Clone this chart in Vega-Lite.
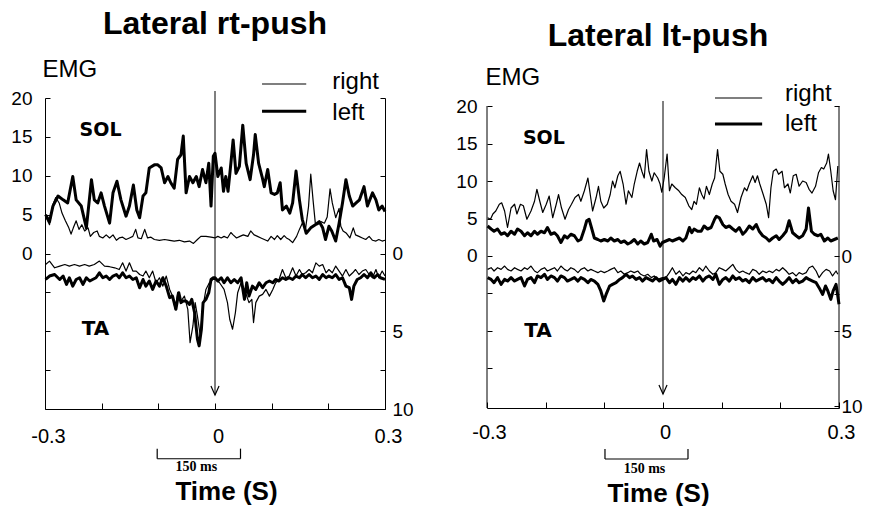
{
"$schema": "https://vega.github.io/schema/vega-lite/v6.json",
"background": "white",
"padding": {"left": 10, "top": 8, "right": 0, "bottom": 0},
"spacing": 41,
"config": {"font": "Liberation Sans", "view": {"stroke": null}, "axis": {"grid": false, "domainColor": "black", "tickColor": "black", "labelColor": "black", "titleColor": "black", "labelFont": "Liberation Sans", "titleFont": "Liberation Sans", "domainWidth": 1, "tickWidth": 1}},
"datasets": {
"rt": [
{"m":"SOL","s":"left","t":-0.299,"v":5.0},{"m":"SOL","s":"left","t":-0.292,"v":4.1},{"m":"SOL","s":"left","t":-0.286,"v":6.1},{"m":"SOL","s":"left","t":-0.277,"v":7.4},{"m":"SOL","s":"left","t":-0.268,"v":6.9},{"m":"SOL","s":"left","t":-0.26,"v":6.5},{"m":"SOL","s":"left","t":-0.251,"v":9.9},{"m":"SOL","s":"left","t":-0.245,"v":6.9},{"m":"SOL","s":"left","t":-0.236,"v":6.1},{"m":"SOL","s":"left","t":-0.227,"v":3.3},{"m":"SOL","s":"left","t":-0.218,"v":9.5},{"m":"SOL","s":"left","t":-0.213,"v":6.9},{"m":"SOL","s":"left","t":-0.207,"v":6.5},{"m":"SOL","s":"left","t":-0.201,"v":7.8},{"m":"SOL","s":"left","t":-0.195,"v":6.1},{"m":"SOL","s":"left","t":-0.186,"v":3.9},{"m":"SOL","s":"left","t":-0.18,"v":7.8},{"m":"SOL","s":"left","t":-0.173,"v":9.3},{"m":"SOL","s":"left","t":-0.166,"v":6.9},{"m":"SOL","s":"left","t":-0.157,"v":4.8},{"m":"SOL","s":"left","t":-0.151,"v":6.1},{"m":"SOL","s":"left","t":-0.144,"v":8.8},{"m":"SOL","s":"left","t":-0.138,"v":5.6},{"m":"SOL","s":"left","t":-0.133,"v":4.6},{"m":"SOL","s":"left","t":-0.127,"v":7.4},{"m":"SOL","s":"left","t":-0.122,"v":7.8},{"m":"SOL","s":"left","t":-0.116,"v":11.0},{"m":"SOL","s":"left","t":-0.107,"v":11.4},{"m":"SOL","s":"left","t":-0.101,"v":11.4},{"m":"SOL","s":"left","t":-0.095,"v":11.0},{"m":"SOL","s":"left","t":-0.089,"v":9.1},{"m":"SOL","s":"left","t":-0.083,"v":9.9},{"m":"SOL","s":"left","t":-0.078,"v":9.1},{"m":"SOL","s":"left","t":-0.072,"v":8.4},{"m":"SOL","s":"left","t":-0.066,"v":12.1},{"m":"SOL","s":"left","t":-0.06,"v":12.7},{"m":"SOL","s":"left","t":-0.056,"v":15.1},{"m":"SOL","s":"left","t":-0.051,"v":7.8},{"m":"SOL","s":"left","t":-0.045,"v":9.9},{"m":"SOL","s":"left","t":-0.039,"v":9.1},{"m":"SOL","s":"left","t":-0.033,"v":9.9},{"m":"SOL","s":"left","t":-0.028,"v":8.6},{"m":"SOL","s":"left","t":-0.022,"v":10.8},{"m":"SOL","s":"left","t":-0.016,"v":9.1},{"m":"SOL","s":"left","t":-0.011,"v":11.6},{"m":"SOL","s":"left","t":-0.007,"v":6.1},{"m":"SOL","s":"left","t":-0.003,"v":12.5},{"m":"SOL","s":"left","t":0.0,"v":12.9},{"m":"SOL","s":"left","t":0.005,"v":9.9},{"m":"SOL","s":"left","t":0.011,"v":11.0},{"m":"SOL","s":"left","t":0.015,"v":8.0},{"m":"SOL","s":"left","t":0.019,"v":9.9},{"m":"SOL","s":"left","t":0.023,"v":8.0},{"m":"SOL","s":"left","t":0.028,"v":11.6},{"m":"SOL","s":"left","t":0.032,"v":14.6},{"m":"SOL","s":"left","t":0.037,"v":10.3},{"m":"SOL","s":"left","t":0.043,"v":11.2},{"m":"SOL","s":"left","t":0.049,"v":16.5},{"m":"SOL","s":"left","t":0.055,"v":11.6},{"m":"SOL","s":"left","t":0.062,"v":9.5},{"m":"SOL","s":"left","t":0.068,"v":12.7},{"m":"SOL","s":"left","t":0.071,"v":15.3},{"m":"SOL","s":"left","t":0.077,"v":11.6},{"m":"SOL","s":"left","t":0.083,"v":9.9},{"m":"SOL","s":"left","t":0.087,"v":8.6},{"m":"SOL","s":"left","t":0.093,"v":10.8},{"m":"SOL","s":"left","t":0.099,"v":7.8},{"m":"SOL","s":"left","t":0.105,"v":7.6},{"m":"SOL","s":"left","t":0.11,"v":7.8},{"m":"SOL","s":"left","t":0.115,"v":9.1},{"m":"SOL","s":"left","t":0.119,"v":5.6},{"m":"SOL","s":"left","t":0.126,"v":6.1},{"m":"SOL","s":"left","t":0.132,"v":5.2},{"m":"SOL","s":"left","t":0.137,"v":6.5},{"m":"SOL","s":"left","t":0.143,"v":10.6},{"m":"SOL","s":"left","t":0.149,"v":6.9},{"m":"SOL","s":"left","t":0.154,"v":4.4},{"m":"SOL","s":"left","t":0.161,"v":2.6},{"m":"SOL","s":"left","t":0.169,"v":3.3},{"m":"SOL","s":"left","t":0.177,"v":3.7},{"m":"SOL","s":"left","t":0.184,"v":4.1},{"m":"SOL","s":"left","t":0.19,"v":3.3},{"m":"SOL","s":"left","t":0.195,"v":1.8},{"m":"SOL","s":"left","t":0.201,"v":3.5},{"m":"SOL","s":"left","t":0.206,"v":2.9},{"m":"SOL","s":"left","t":0.213,"v":1.6},{"m":"SOL","s":"left","t":0.219,"v":3.9},{"m":"SOL","s":"left","t":0.225,"v":6.5},{"m":"SOL","s":"left","t":0.231,"v":9.5},{"m":"SOL","s":"left","t":0.237,"v":7.4},{"m":"SOL","s":"left","t":0.243,"v":6.1},{"m":"SOL","s":"left","t":0.249,"v":6.5},{"m":"SOL","s":"left","t":0.255,"v":6.9},{"m":"SOL","s":"left","t":0.263,"v":8.6},{"m":"SOL","s":"left","t":0.269,"v":6.1},{"m":"SOL","s":"left","t":0.278,"v":7.8},{"m":"SOL","s":"left","t":0.284,"v":6.9},{"m":"SOL","s":"left","t":0.289,"v":5.6},{"m":"SOL","s":"left","t":0.295,"v":6.1},{"m":"SOL","s":"left","t":0.3,"v":5.4},
{"m":"SOL","s":"right","t":-0.298,"v":4.6},{"m":"SOL","s":"right","t":-0.292,"v":3.7},{"m":"SOL","s":"right","t":-0.286,"v":6.3},{"m":"SOL","s":"right","t":-0.281,"v":7.2},{"m":"SOL","s":"right","t":-0.275,"v":6.5},{"m":"SOL","s":"right","t":-0.27,"v":5.2},{"m":"SOL","s":"right","t":-0.264,"v":4.2},{"m":"SOL","s":"right","t":-0.258,"v":3.3},{"m":"SOL","s":"right","t":-0.254,"v":2.5},{"m":"SOL","s":"right","t":-0.25,"v":3.3},{"m":"SOL","s":"right","t":-0.245,"v":4.2},{"m":"SOL","s":"right","t":-0.24,"v":3.1},{"m":"SOL","s":"right","t":-0.235,"v":3.7},{"m":"SOL","s":"right","t":-0.23,"v":2.9},{"m":"SOL","s":"right","t":-0.224,"v":3.3},{"m":"SOL","s":"right","t":-0.22,"v":2.2},{"m":"SOL","s":"right","t":-0.214,"v":2.7},{"m":"SOL","s":"right","t":-0.208,"v":2.9},{"m":"SOL","s":"right","t":-0.204,"v":2.2},{"m":"SOL","s":"right","t":-0.198,"v":2.0},{"m":"SOL","s":"right","t":-0.192,"v":2.4},{"m":"SOL","s":"right","t":-0.186,"v":2.0},{"m":"SOL","s":"right","t":-0.18,"v":2.4},{"m":"SOL","s":"right","t":-0.174,"v":1.7},{"m":"SOL","s":"right","t":-0.169,"v":2.0},{"m":"SOL","s":"right","t":-0.163,"v":2.1},{"m":"SOL","s":"right","t":-0.157,"v":1.8},{"m":"SOL","s":"right","t":-0.151,"v":2.0},{"m":"SOL","s":"right","t":-0.145,"v":2.2},{"m":"SOL","s":"right","t":-0.14,"v":3.1},{"m":"SOL","s":"right","t":-0.136,"v":2.0},{"m":"SOL","s":"right","t":-0.13,"v":1.9},{"m":"SOL","s":"right","t":-0.124,"v":3.1},{"m":"SOL","s":"right","t":-0.119,"v":2.0},{"m":"SOL","s":"right","t":-0.113,"v":2.1},{"m":"SOL","s":"right","t":-0.107,"v":1.8},{"m":"SOL","s":"right","t":-0.098,"v":1.7},{"m":"SOL","s":"right","t":-0.089,"v":1.8},{"m":"SOL","s":"right","t":-0.08,"v":1.7},{"m":"SOL","s":"right","t":-0.072,"v":1.6},{"m":"SOL","s":"right","t":-0.063,"v":1.7},{"m":"SOL","s":"right","t":-0.054,"v":1.5},{"m":"SOL","s":"right","t":-0.045,"v":1.6},{"m":"SOL","s":"right","t":-0.038,"v":1.3},{"m":"SOL","s":"right","t":-0.031,"v":1.8},{"m":"SOL","s":"right","t":-0.025,"v":2.2},{"m":"SOL","s":"right","t":-0.016,"v":2.2},{"m":"SOL","s":"right","t":-0.007,"v":2.1},{"m":"SOL","s":"right","t":0.0,"v":2.0},{"m":"SOL","s":"right","t":0.005,"v":2.2},{"m":"SOL","s":"right","t":0.011,"v":2.0},{"m":"SOL","s":"right","t":0.016,"v":2.2},{"m":"SOL","s":"right","t":0.022,"v":2.0},{"m":"SOL","s":"right","t":0.028,"v":2.7},{"m":"SOL","s":"right","t":0.032,"v":2.4},{"m":"SOL","s":"right","t":0.038,"v":2.0},{"m":"SOL","s":"right","t":0.044,"v":2.2},{"m":"SOL","s":"right","t":0.05,"v":2.4},{"m":"SOL","s":"right","t":0.058,"v":2.2},{"m":"SOL","s":"right","t":0.063,"v":2.9},{"m":"SOL","s":"right","t":0.069,"v":2.4},{"m":"SOL","s":"right","t":0.075,"v":2.2},{"m":"SOL","s":"right","t":0.081,"v":2.0},{"m":"SOL","s":"right","t":0.087,"v":1.8},{"m":"SOL","s":"right","t":0.093,"v":1.6},{"m":"SOL","s":"right","t":0.099,"v":2.2},{"m":"SOL","s":"right","t":0.105,"v":1.8},{"m":"SOL","s":"right","t":0.11,"v":2.3},{"m":"SOL","s":"right","t":0.116,"v":1.8},{"m":"SOL","s":"right","t":0.122,"v":2.3},{"m":"SOL","s":"right","t":0.126,"v":2.0},{"m":"SOL","s":"right","t":0.131,"v":1.8},{"m":"SOL","s":"right","t":0.137,"v":1.4},{"m":"SOL","s":"right","t":0.144,"v":2.2},{"m":"SOL","s":"right","t":0.149,"v":3.1},{"m":"SOL","s":"right","t":0.154,"v":3.9},{"m":"SOL","s":"right","t":0.16,"v":3.3},{"m":"SOL","s":"right","t":0.165,"v":6.0},{"m":"SOL","s":"right","t":0.169,"v":10.2},{"m":"SOL","s":"right","t":0.173,"v":6.9},{"m":"SOL","s":"right","t":0.177,"v":3.9},{"m":"SOL","s":"right","t":0.181,"v":3.7},{"m":"SOL","s":"right","t":0.187,"v":4.1},{"m":"SOL","s":"right","t":0.193,"v":3.9},{"m":"SOL","s":"right","t":0.198,"v":4.7},{"m":"SOL","s":"right","t":0.203,"v":8.3},{"m":"SOL","s":"right","t":0.207,"v":6.5},{"m":"SOL","s":"right","t":0.213,"v":4.6},{"m":"SOL","s":"right","t":0.219,"v":5.8},{"m":"SOL","s":"right","t":0.222,"v":3.5},{"m":"SOL","s":"right","t":0.226,"v":2.9},{"m":"SOL","s":"right","t":0.232,"v":2.6},{"m":"SOL","s":"right","t":0.238,"v":2.0},{"m":"SOL","s":"right","t":0.244,"v":3.3},{"m":"SOL","s":"right","t":0.248,"v":2.4},{"m":"SOL","s":"right","t":0.254,"v":2.2},{"m":"SOL","s":"right","t":0.26,"v":2.0},{"m":"SOL","s":"right","t":0.266,"v":1.8},{"m":"SOL","s":"right","t":0.272,"v":2.2},{"m":"SOL","s":"right","t":0.278,"v":1.7},{"m":"SOL","s":"right","t":0.284,"v":1.6},{"m":"SOL","s":"right","t":0.289,"v":1.8},{"m":"SOL","s":"right","t":0.295,"v":1.6},{"m":"SOL","s":"right","t":0.3,"v":1.7},
{"m":"TA","s":"right","t":-0.299,"v":0.71},{"m":"TA","s":"right","t":-0.292,"v":0.49},{"m":"TA","s":"right","t":-0.283,"v":0.92},{"m":"TA","s":"right","t":-0.274,"v":0.81},{"m":"TA","s":"right","t":-0.265,"v":0.71},{"m":"TA","s":"right","t":-0.257,"v":0.81},{"m":"TA","s":"right","t":-0.248,"v":0.71},{"m":"TA","s":"right","t":-0.239,"v":0.81},{"m":"TA","s":"right","t":-0.23,"v":0.71},{"m":"TA","s":"right","t":-0.222,"v":0.81},{"m":"TA","s":"right","t":-0.213,"v":0.71},{"m":"TA","s":"right","t":-0.204,"v":0.49},{"m":"TA","s":"right","t":-0.195,"v":0.81},{"m":"TA","s":"right","t":-0.186,"v":0.85},{"m":"TA","s":"right","t":-0.177,"v":0.92},{"m":"TA","s":"right","t":-0.169,"v":1.03},{"m":"TA","s":"right","t":-0.163,"v":0.6},{"m":"TA","s":"right","t":-0.157,"v":1.13},{"m":"TA","s":"right","t":-0.151,"v":0.6},{"m":"TA","s":"right","t":-0.145,"v":1.13},{"m":"TA","s":"right","t":-0.139,"v":1.13},{"m":"TA","s":"right","t":-0.133,"v":1.35},{"m":"TA","s":"right","t":-0.127,"v":1.45},{"m":"TA","s":"right","t":-0.122,"v":1.13},{"m":"TA","s":"right","t":-0.116,"v":1.56},{"m":"TA","s":"right","t":-0.11,"v":1.13},{"m":"TA","s":"right","t":-0.104,"v":1.88},{"m":"TA","s":"right","t":-0.098,"v":1.56},{"m":"TA","s":"right","t":-0.092,"v":2.1},{"m":"TA","s":"right","t":-0.086,"v":1.45},{"m":"TA","s":"right","t":-0.08,"v":2.31},{"m":"TA","s":"right","t":-0.075,"v":2.74},{"m":"TA","s":"right","t":-0.07,"v":3.59},{"m":"TA","s":"right","t":-0.066,"v":2.52},{"m":"TA","s":"right","t":-0.06,"v":3.06},{"m":"TA","s":"right","t":-0.054,"v":2.74},{"m":"TA","s":"right","t":-0.048,"v":3.59},{"m":"TA","s":"right","t":-0.044,"v":5.73},{"m":"TA","s":"right","t":-0.039,"v":4.66},{"m":"TA","s":"right","t":-0.035,"v":3.16},{"m":"TA","s":"right","t":-0.031,"v":4.02},{"m":"TA","s":"right","t":-0.026,"v":5.3},{"m":"TA","s":"right","t":-0.022,"v":3.59},{"m":"TA","s":"right","t":-0.016,"v":2.31},{"m":"TA","s":"right","t":-0.01,"v":1.88},{"m":"TA","s":"right","t":-0.004,"v":1.67},{"m":"TA","s":"right","t":0.002,"v":1.67},{"m":"TA","s":"right","t":0.008,"v":1.88},{"m":"TA","s":"right","t":0.016,"v":2.31},{"m":"TA","s":"right","t":0.022,"v":3.16},{"m":"TA","s":"right","t":0.026,"v":4.23},{"m":"TA","s":"right","t":0.031,"v":4.87},{"m":"TA","s":"right","t":0.036,"v":3.8},{"m":"TA","s":"right","t":0.04,"v":2.52},{"m":"TA","s":"right","t":0.046,"v":1.88},{"m":"TA","s":"right","t":0.052,"v":2.31},{"m":"TA","s":"right","t":0.056,"v":2.74},{"m":"TA","s":"right","t":0.06,"v":3.16},{"m":"TA","s":"right","t":0.065,"v":2.95},{"m":"TA","s":"right","t":0.068,"v":4.44},{"m":"TA","s":"right","t":0.072,"v":3.16},{"m":"TA","s":"right","t":0.078,"v":2.74},{"m":"TA","s":"right","t":0.084,"v":2.63},{"m":"TA","s":"right","t":0.09,"v":2.31},{"m":"TA","s":"right","t":0.096,"v":2.74},{"m":"TA","s":"right","t":0.102,"v":2.31},{"m":"TA","s":"right","t":0.107,"v":1.88},{"m":"TA","s":"right","t":0.113,"v":1.67},{"m":"TA","s":"right","t":0.119,"v":1.03},{"m":"TA","s":"right","t":0.125,"v":1.56},{"m":"TA","s":"right","t":0.131,"v":1.45},{"m":"TA","s":"right","t":0.137,"v":0.92},{"m":"TA","s":"right","t":0.143,"v":1.45},{"m":"TA","s":"right","t":0.149,"v":1.03},{"m":"TA","s":"right","t":0.154,"v":1.35},{"m":"TA","s":"right","t":0.16,"v":1.24},{"m":"TA","s":"right","t":0.166,"v":1.03},{"m":"TA","s":"right","t":0.172,"v":1.24},{"m":"TA","s":"right","t":0.178,"v":0.6},{"m":"TA","s":"right","t":0.184,"v":0.81},{"m":"TA","s":"right","t":0.19,"v":0.71},{"m":"TA","s":"right","t":0.196,"v":1.24},{"m":"TA","s":"right","t":0.201,"v":1.03},{"m":"TA","s":"right","t":0.207,"v":1.24},{"m":"TA","s":"right","t":0.213,"v":0.81},{"m":"TA","s":"right","t":0.219,"v":1.13},{"m":"TA","s":"right","t":0.225,"v":1.45},{"m":"TA","s":"right","t":0.231,"v":1.03},{"m":"TA","s":"right","t":0.237,"v":1.45},{"m":"TA","s":"right","t":0.243,"v":1.24},{"m":"TA","s":"right","t":0.248,"v":1.03},{"m":"TA","s":"right","t":0.254,"v":1.35},{"m":"TA","s":"right","t":0.26,"v":1.13},{"m":"TA","s":"right","t":0.266,"v":1.03},{"m":"TA","s":"right","t":0.272,"v":1.35},{"m":"TA","s":"right","t":0.278,"v":1.56},{"m":"TA","s":"right","t":0.284,"v":1.03},{"m":"TA","s":"right","t":0.289,"v":1.56},{"m":"TA","s":"right","t":0.295,"v":1.13},{"m":"TA","s":"right","t":0.3,"v":1.45},
{"m":"TA","s":"left","t":-0.299,"v":1.67},{"m":"TA","s":"left","t":-0.292,"v":1.45},{"m":"TA","s":"left","t":-0.283,"v":1.35},{"m":"TA","s":"left","t":-0.274,"v":1.67},{"m":"TA","s":"left","t":-0.268,"v":1.45},{"m":"TA","s":"left","t":-0.262,"v":1.99},{"m":"TA","s":"left","t":-0.257,"v":1.56},{"m":"TA","s":"left","t":-0.251,"v":2.1},{"m":"TA","s":"left","t":-0.245,"v":1.67},{"m":"TA","s":"left","t":-0.239,"v":1.56},{"m":"TA","s":"left","t":-0.233,"v":1.99},{"m":"TA","s":"left","t":-0.227,"v":1.56},{"m":"TA","s":"left","t":-0.221,"v":1.77},{"m":"TA","s":"left","t":-0.216,"v":1.67},{"m":"TA","s":"left","t":-0.21,"v":1.56},{"m":"TA","s":"left","t":-0.204,"v":1.24},{"m":"TA","s":"left","t":-0.198,"v":1.56},{"m":"TA","s":"left","t":-0.192,"v":1.45},{"m":"TA","s":"left","t":-0.186,"v":1.67},{"m":"TA","s":"left","t":-0.18,"v":1.45},{"m":"TA","s":"left","t":-0.174,"v":1.35},{"m":"TA","s":"left","t":-0.169,"v":1.56},{"m":"TA","s":"left","t":-0.163,"v":1.24},{"m":"TA","s":"left","t":-0.157,"v":1.56},{"m":"TA","s":"left","t":-0.151,"v":1.45},{"m":"TA","s":"left","t":-0.145,"v":1.67},{"m":"TA","s":"left","t":-0.139,"v":1.56},{"m":"TA","s":"left","t":-0.133,"v":2.2},{"m":"TA","s":"left","t":-0.127,"v":1.67},{"m":"TA","s":"left","t":-0.122,"v":2.1},{"m":"TA","s":"left","t":-0.116,"v":1.77},{"m":"TA","s":"left","t":-0.11,"v":2.31},{"m":"TA","s":"left","t":-0.104,"v":1.77},{"m":"TA","s":"left","t":-0.098,"v":2.1},{"m":"TA","s":"left","t":-0.092,"v":1.56},{"m":"TA","s":"left","t":-0.086,"v":2.1},{"m":"TA","s":"left","t":-0.08,"v":2.84},{"m":"TA","s":"left","t":-0.075,"v":2.74},{"m":"TA","s":"left","t":-0.069,"v":3.59},{"m":"TA","s":"left","t":-0.064,"v":2.52},{"m":"TA","s":"left","t":-0.06,"v":3.16},{"m":"TA","s":"left","t":-0.056,"v":3.06},{"m":"TA","s":"left","t":-0.051,"v":3.06},{"m":"TA","s":"left","t":-0.045,"v":3.27},{"m":"TA","s":"left","t":-0.041,"v":2.95},{"m":"TA","s":"left","t":-0.036,"v":3.8},{"m":"TA","s":"left","t":-0.031,"v":5.51},{"m":"TA","s":"left","t":-0.028,"v":5.94},{"m":"TA","s":"left","t":-0.024,"v":4.87},{"m":"TA","s":"left","t":-0.021,"v":3.16},{"m":"TA","s":"left","t":-0.016,"v":2.95},{"m":"TA","s":"left","t":-0.011,"v":2.52},{"m":"TA","s":"left","t":-0.007,"v":1.67},{"m":"TA","s":"left","t":-0.003,"v":1.56},{"m":"TA","s":"left","t":0.0,"v":1.56},{"m":"TA","s":"left","t":0.005,"v":1.77},{"m":"TA","s":"left","t":0.011,"v":1.56},{"m":"TA","s":"left","t":0.016,"v":1.88},{"m":"TA","s":"left","t":0.022,"v":1.56},{"m":"TA","s":"left","t":0.028,"v":1.88},{"m":"TA","s":"left","t":0.034,"v":1.67},{"m":"TA","s":"left","t":0.04,"v":1.88},{"m":"TA","s":"left","t":0.046,"v":1.56},{"m":"TA","s":"left","t":0.052,"v":2.95},{"m":"TA","s":"left","t":0.056,"v":1.88},{"m":"TA","s":"left","t":0.06,"v":2.74},{"m":"TA","s":"left","t":0.066,"v":2.1},{"m":"TA","s":"left","t":0.072,"v":2.31},{"m":"TA","s":"left","t":0.078,"v":1.88},{"m":"TA","s":"left","t":0.084,"v":2.2},{"m":"TA","s":"left","t":0.09,"v":1.88},{"m":"TA","s":"left","t":0.096,"v":1.77},{"m":"TA","s":"left","t":0.102,"v":1.88},{"m":"TA","s":"left","t":0.107,"v":1.67},{"m":"TA","s":"left","t":0.113,"v":1.77},{"m":"TA","s":"left","t":0.119,"v":1.56},{"m":"TA","s":"left","t":0.125,"v":1.67},{"m":"TA","s":"left","t":0.131,"v":1.56},{"m":"TA","s":"left","t":0.137,"v":1.67},{"m":"TA","s":"left","t":0.143,"v":1.45},{"m":"TA","s":"left","t":0.149,"v":1.56},{"m":"TA","s":"left","t":0.154,"v":1.35},{"m":"TA","s":"left","t":0.16,"v":1.56},{"m":"TA","s":"left","t":0.166,"v":1.35},{"m":"TA","s":"left","t":0.172,"v":1.56},{"m":"TA","s":"left","t":0.178,"v":1.45},{"m":"TA","s":"left","t":0.184,"v":1.67},{"m":"TA","s":"left","t":0.19,"v":1.35},{"m":"TA","s":"left","t":0.196,"v":1.56},{"m":"TA","s":"left","t":0.201,"v":1.45},{"m":"TA","s":"left","t":0.207,"v":1.56},{"m":"TA","s":"left","t":0.213,"v":1.35},{"m":"TA","s":"left","t":0.219,"v":1.67},{"m":"TA","s":"left","t":0.225,"v":1.56},{"m":"TA","s":"left","t":0.231,"v":2.1},{"m":"TA","s":"left","t":0.237,"v":2.2},{"m":"TA","s":"left","t":0.241,"v":2.95},{"m":"TA","s":"left","t":0.245,"v":2.1},{"m":"TA","s":"left","t":0.251,"v":1.67},{"m":"TA","s":"left","t":0.257,"v":1.56},{"m":"TA","s":"left","t":0.263,"v":1.35},{"m":"TA","s":"left","t":0.269,"v":1.56},{"m":"TA","s":"left","t":0.275,"v":1.24},{"m":"TA","s":"left","t":0.281,"v":1.56},{"m":"TA","s":"left","t":0.287,"v":1.35},{"m":"TA","s":"left","t":0.292,"v":1.56},{"m":"TA","s":"left","t":0.3,"v":1.67}
],
"lt": [
{"m":"SOL","s":"right","t":-0.299,"v":5.1},{"m":"SOL","s":"right","t":-0.294,"v":4.9},{"m":"SOL","s":"right","t":-0.29,"v":5.6},{"m":"SOL","s":"right","t":-0.285,"v":6.0},{"m":"SOL","s":"right","t":-0.279,"v":6.9},{"m":"SOL","s":"right","t":-0.275,"v":7.1},{"m":"SOL","s":"right","t":-0.27,"v":6.0},{"m":"SOL","s":"right","t":-0.265,"v":3.8},{"m":"SOL","s":"right","t":-0.259,"v":6.4},{"m":"SOL","s":"right","t":-0.253,"v":6.9},{"m":"SOL","s":"right","t":-0.249,"v":5.6},{"m":"SOL","s":"right","t":-0.243,"v":6.9},{"m":"SOL","s":"right","t":-0.238,"v":6.7},{"m":"SOL","s":"right","t":-0.232,"v":4.9},{"m":"SOL","s":"right","t":-0.225,"v":6.0},{"m":"SOL","s":"right","t":-0.219,"v":7.3},{"m":"SOL","s":"right","t":-0.215,"v":8.9},{"m":"SOL","s":"right","t":-0.21,"v":7.3},{"m":"SOL","s":"right","t":-0.205,"v":5.8},{"m":"SOL","s":"right","t":-0.199,"v":6.9},{"m":"SOL","s":"right","t":-0.194,"v":8.0},{"m":"SOL","s":"right","t":-0.188,"v":5.1},{"m":"SOL","s":"right","t":-0.182,"v":6.9},{"m":"SOL","s":"right","t":-0.178,"v":8.2},{"m":"SOL","s":"right","t":-0.173,"v":6.4},{"m":"SOL","s":"right","t":-0.167,"v":4.9},{"m":"SOL","s":"right","t":-0.161,"v":6.2},{"m":"SOL","s":"right","t":-0.156,"v":6.9},{"m":"SOL","s":"right","t":-0.15,"v":7.8},{"m":"SOL","s":"right","t":-0.144,"v":8.2},{"m":"SOL","s":"right","t":-0.14,"v":7.3},{"m":"SOL","s":"right","t":-0.134,"v":8.7},{"m":"SOL","s":"right","t":-0.128,"v":10.4},{"m":"SOL","s":"right","t":-0.124,"v":8.2},{"m":"SOL","s":"right","t":-0.12,"v":6.0},{"m":"SOL","s":"right","t":-0.114,"v":7.8},{"m":"SOL","s":"right","t":-0.11,"v":9.3},{"m":"SOL","s":"right","t":-0.106,"v":7.3},{"m":"SOL","s":"right","t":-0.101,"v":6.4},{"m":"SOL","s":"right","t":-0.095,"v":6.9},{"m":"SOL","s":"right","t":-0.09,"v":8.2},{"m":"SOL","s":"right","t":-0.086,"v":10.0},{"m":"SOL","s":"right","t":-0.082,"v":9.1},{"m":"SOL","s":"right","t":-0.077,"v":10.7},{"m":"SOL","s":"right","t":-0.073,"v":11.3},{"m":"SOL","s":"right","t":-0.068,"v":9.6},{"m":"SOL","s":"right","t":-0.063,"v":6.9},{"m":"SOL","s":"right","t":-0.059,"v":8.7},{"m":"SOL","s":"right","t":-0.053,"v":7.8},{"m":"SOL","s":"right","t":-0.049,"v":9.6},{"m":"SOL","s":"right","t":-0.044,"v":11.3},{"m":"SOL","s":"right","t":-0.04,"v":12.4},{"m":"SOL","s":"right","t":-0.036,"v":11.3},{"m":"SOL","s":"right","t":-0.032,"v":10.4},{"m":"SOL","s":"right","t":-0.028,"v":14.2},{"m":"SOL","s":"right","t":-0.024,"v":11.3},{"m":"SOL","s":"right","t":-0.019,"v":10.0},{"m":"SOL","s":"right","t":-0.015,"v":11.1},{"m":"SOL","s":"right","t":-0.009,"v":10.4},{"m":"SOL","s":"right","t":-0.005,"v":9.6},{"m":"SOL","s":"right","t":-0.002,"v":8.5},{"m":"SOL","s":"right","t":0.002,"v":10.4},{"m":"SOL","s":"right","t":0.007,"v":13.6},{"m":"SOL","s":"right","t":0.011,"v":8.7},{"m":"SOL","s":"right","t":0.015,"v":9.6},{"m":"SOL","s":"right","t":0.021,"v":9.1},{"m":"SOL","s":"right","t":0.027,"v":8.7},{"m":"SOL","s":"right","t":0.032,"v":8.2},{"m":"SOL","s":"right","t":0.038,"v":7.8},{"m":"SOL","s":"right","t":0.044,"v":6.7},{"m":"SOL","s":"right","t":0.049,"v":6.2},{"m":"SOL","s":"right","t":0.053,"v":7.3},{"m":"SOL","s":"right","t":0.057,"v":6.9},{"m":"SOL","s":"right","t":0.062,"v":9.1},{"m":"SOL","s":"right","t":0.066,"v":8.2},{"m":"SOL","s":"right","t":0.07,"v":7.6},{"m":"SOL","s":"right","t":0.074,"v":9.3},{"m":"SOL","s":"right","t":0.079,"v":8.2},{"m":"SOL","s":"right","t":0.084,"v":9.6},{"m":"SOL","s":"right","t":0.088,"v":10.4},{"m":"SOL","s":"right","t":0.093,"v":14.2},{"m":"SOL","s":"right","t":0.097,"v":11.3},{"m":"SOL","s":"right","t":0.102,"v":10.9},{"m":"SOL","s":"right","t":0.106,"v":9.6},{"m":"SOL","s":"right","t":0.111,"v":8.2},{"m":"SOL","s":"right","t":0.116,"v":7.3},{"m":"SOL","s":"right","t":0.122,"v":6.9},{"m":"SOL","s":"right","t":0.127,"v":5.8},{"m":"SOL","s":"right","t":0.133,"v":7.8},{"m":"SOL","s":"right","t":0.139,"v":9.1},{"m":"SOL","s":"right","t":0.143,"v":8.7},{"m":"SOL","s":"right","t":0.147,"v":9.6},{"m":"SOL","s":"right","t":0.153,"v":10.7},{"m":"SOL","s":"right","t":0.157,"v":9.8},{"m":"SOL","s":"right","t":0.161,"v":10.7},{"m":"SOL","s":"right","t":0.165,"v":9.6},{"m":"SOL","s":"right","t":0.17,"v":8.4},{"m":"SOL","s":"right","t":0.176,"v":6.9},{"m":"SOL","s":"right","t":0.18,"v":5.1},{"m":"SOL","s":"right","t":0.184,"v":9.1},{"m":"SOL","s":"right","t":0.188,"v":11.3},{"m":"SOL","s":"right","t":0.193,"v":11.6},{"m":"SOL","s":"right","t":0.197,"v":10.9},{"m":"SOL","s":"right","t":0.203,"v":11.3},{"m":"SOL","s":"right","t":0.207,"v":9.1},{"m":"SOL","s":"right","t":0.213,"v":9.6},{"m":"SOL","s":"right","t":0.217,"v":8.4},{"m":"SOL","s":"right","t":0.222,"v":10.7},{"m":"SOL","s":"right","t":0.227,"v":10.9},{"m":"SOL","s":"right","t":0.232,"v":9.3},{"m":"SOL","s":"right","t":0.238,"v":10.0},{"m":"SOL","s":"right","t":0.244,"v":9.8},{"m":"SOL","s":"right","t":0.249,"v":8.9},{"m":"SOL","s":"right","t":0.254,"v":8.4},{"m":"SOL","s":"right","t":0.26,"v":9.3},{"m":"SOL","s":"right","t":0.265,"v":11.1},{"m":"SOL","s":"right","t":0.27,"v":11.8},{"m":"SOL","s":"right","t":0.274,"v":11.6},{"m":"SOL","s":"right","t":0.279,"v":12.4},{"m":"SOL","s":"right","t":0.282,"v":13.6},{"m":"SOL","s":"right","t":0.286,"v":11.3},{"m":"SOL","s":"right","t":0.29,"v":8.7},{"m":"SOL","s":"right","t":0.294,"v":7.5},{"m":"SOL","s":"right","t":0.298,"v":12.0},
{"m":"SOL","s":"left","t":-0.299,"v":4.0},{"m":"SOL","s":"left","t":-0.293,"v":3.6},{"m":"SOL","s":"left","t":-0.288,"v":3.3},{"m":"SOL","s":"left","t":-0.282,"v":3.6},{"m":"SOL","s":"left","t":-0.276,"v":2.9},{"m":"SOL","s":"left","t":-0.27,"v":3.1},{"m":"SOL","s":"left","t":-0.265,"v":2.7},{"m":"SOL","s":"left","t":-0.259,"v":3.3},{"m":"SOL","s":"left","t":-0.253,"v":2.9},{"m":"SOL","s":"left","t":-0.248,"v":3.6},{"m":"SOL","s":"left","t":-0.242,"v":3.3},{"m":"SOL","s":"left","t":-0.236,"v":2.7},{"m":"SOL","s":"left","t":-0.231,"v":3.1},{"m":"SOL","s":"left","t":-0.225,"v":2.7},{"m":"SOL","s":"left","t":-0.219,"v":3.3},{"m":"SOL","s":"left","t":-0.214,"v":2.9},{"m":"SOL","s":"left","t":-0.208,"v":3.3},{"m":"SOL","s":"left","t":-0.202,"v":3.1},{"m":"SOL","s":"left","t":-0.197,"v":3.8},{"m":"SOL","s":"left","t":-0.191,"v":2.9},{"m":"SOL","s":"left","t":-0.185,"v":3.1},{"m":"SOL","s":"left","t":-0.18,"v":2.7},{"m":"SOL","s":"left","t":-0.174,"v":1.8},{"m":"SOL","s":"left","t":-0.168,"v":2.7},{"m":"SOL","s":"left","t":-0.163,"v":2.4},{"m":"SOL","s":"left","t":-0.157,"v":2.9},{"m":"SOL","s":"left","t":-0.151,"v":2.7},{"m":"SOL","s":"left","t":-0.145,"v":2.0},{"m":"SOL","s":"left","t":-0.14,"v":2.2},{"m":"SOL","s":"left","t":-0.134,"v":3.6},{"m":"SOL","s":"left","t":-0.13,"v":4.7},{"m":"SOL","s":"left","t":-0.126,"v":4.9},{"m":"SOL","s":"left","t":-0.122,"v":3.8},{"m":"SOL","s":"left","t":-0.117,"v":2.4},{"m":"SOL","s":"left","t":-0.111,"v":2.2},{"m":"SOL","s":"left","t":-0.106,"v":2.0},{"m":"SOL","s":"left","t":-0.1,"v":2.2},{"m":"SOL","s":"left","t":-0.094,"v":2.0},{"m":"SOL","s":"left","t":-0.089,"v":2.4},{"m":"SOL","s":"left","t":-0.083,"v":2.0},{"m":"SOL","s":"left","t":-0.077,"v":2.2},{"m":"SOL","s":"left","t":-0.072,"v":1.8},{"m":"SOL","s":"left","t":-0.066,"v":2.0},{"m":"SOL","s":"left","t":-0.06,"v":1.6},{"m":"SOL","s":"left","t":-0.055,"v":1.8},{"m":"SOL","s":"left","t":-0.049,"v":2.2},{"m":"SOL","s":"left","t":-0.043,"v":1.6},{"m":"SOL","s":"left","t":-0.038,"v":2.0},{"m":"SOL","s":"left","t":-0.032,"v":1.6},{"m":"SOL","s":"left","t":-0.026,"v":1.8},{"m":"SOL","s":"left","t":-0.02,"v":2.9},{"m":"SOL","s":"left","t":-0.016,"v":2.0},{"m":"SOL","s":"left","t":-0.01,"v":2.2},{"m":"SOL","s":"left","t":-0.005,"v":1.3},{"m":"SOL","s":"left","t":-0.001,"v":1.8},{"m":"SOL","s":"left","t":0.005,"v":2.0},{"m":"SOL","s":"left","t":0.011,"v":2.2},{"m":"SOL","s":"left","t":0.016,"v":2.0},{"m":"SOL","s":"left","t":0.022,"v":2.2},{"m":"SOL","s":"left","t":0.028,"v":2.4},{"m":"SOL","s":"left","t":0.034,"v":2.0},{"m":"SOL","s":"left","t":0.039,"v":2.4},{"m":"SOL","s":"left","t":0.045,"v":3.8},{"m":"SOL","s":"left","t":0.049,"v":3.1},{"m":"SOL","s":"left","t":0.053,"v":3.6},{"m":"SOL","s":"left","t":0.059,"v":3.3},{"m":"SOL","s":"left","t":0.065,"v":3.3},{"m":"SOL","s":"left","t":0.07,"v":4.0},{"m":"SOL","s":"left","t":0.076,"v":3.6},{"m":"SOL","s":"left","t":0.082,"v":3.8},{"m":"SOL","s":"left","t":0.088,"v":4.9},{"m":"SOL","s":"left","t":0.091,"v":5.3},{"m":"SOL","s":"left","t":0.096,"v":5.1},{"m":"SOL","s":"left","t":0.102,"v":4.2},{"m":"SOL","s":"left","t":0.107,"v":3.8},{"m":"SOL","s":"left","t":0.113,"v":4.0},{"m":"SOL","s":"left","t":0.119,"v":3.6},{"m":"SOL","s":"left","t":0.124,"v":3.3},{"m":"SOL","s":"left","t":0.13,"v":3.8},{"m":"SOL","s":"left","t":0.136,"v":2.9},{"m":"SOL","s":"left","t":0.141,"v":3.3},{"m":"SOL","s":"left","t":0.147,"v":4.0},{"m":"SOL","s":"left","t":0.153,"v":3.6},{"m":"SOL","s":"left","t":0.159,"v":4.2},{"m":"SOL","s":"left","t":0.164,"v":3.3},{"m":"SOL","s":"left","t":0.17,"v":2.7},{"m":"SOL","s":"left","t":0.176,"v":2.4},{"m":"SOL","s":"left","t":0.181,"v":2.0},{"m":"SOL","s":"left","t":0.187,"v":2.4},{"m":"SOL","s":"left","t":0.193,"v":2.7},{"m":"SOL","s":"left","t":0.198,"v":2.2},{"m":"SOL","s":"left","t":0.204,"v":2.7},{"m":"SOL","s":"left","t":0.21,"v":3.3},{"m":"SOL","s":"left","t":0.215,"v":4.7},{"m":"SOL","s":"left","t":0.221,"v":3.1},{"m":"SOL","s":"left","t":0.227,"v":2.7},{"m":"SOL","s":"left","t":0.232,"v":2.4},{"m":"SOL","s":"left","t":0.238,"v":2.7},{"m":"SOL","s":"left","t":0.244,"v":3.6},{"m":"SOL","s":"left","t":0.248,"v":6.4},{"m":"SOL","s":"left","t":0.253,"v":3.3},{"m":"SOL","s":"left","t":0.258,"v":2.9},{"m":"SOL","s":"left","t":0.264,"v":2.7},{"m":"SOL","s":"left","t":0.269,"v":2.9},{"m":"SOL","s":"left","t":0.275,"v":2.0},{"m":"SOL","s":"left","t":0.281,"v":2.4},{"m":"SOL","s":"left","t":0.286,"v":2.0},{"m":"SOL","s":"left","t":0.292,"v":2.2},{"m":"SOL","s":"left","t":0.298,"v":2.4},
{"m":"TA","s":"right","t":-0.299,"v":0.89},{"m":"TA","s":"right","t":-0.293,"v":0.78},{"m":"TA","s":"right","t":-0.288,"v":1.0},{"m":"TA","s":"right","t":-0.282,"v":0.78},{"m":"TA","s":"right","t":-0.276,"v":0.89},{"m":"TA","s":"right","t":-0.27,"v":0.67},{"m":"TA","s":"right","t":-0.265,"v":0.89},{"m":"TA","s":"right","t":-0.259,"v":1.0},{"m":"TA","s":"right","t":-0.253,"v":0.78},{"m":"TA","s":"right","t":-0.248,"v":0.89},{"m":"TA","s":"right","t":-0.242,"v":1.0},{"m":"TA","s":"right","t":-0.236,"v":0.78},{"m":"TA","s":"right","t":-0.231,"v":0.89},{"m":"TA","s":"right","t":-0.225,"v":0.67},{"m":"TA","s":"right","t":-0.219,"v":1.0},{"m":"TA","s":"right","t":-0.214,"v":1.11},{"m":"TA","s":"right","t":-0.208,"v":0.89},{"m":"TA","s":"right","t":-0.202,"v":0.78},{"m":"TA","s":"right","t":-0.197,"v":1.0},{"m":"TA","s":"right","t":-0.191,"v":0.89},{"m":"TA","s":"right","t":-0.185,"v":0.78},{"m":"TA","s":"right","t":-0.18,"v":1.0},{"m":"TA","s":"right","t":-0.174,"v":0.67},{"m":"TA","s":"right","t":-0.168,"v":0.89},{"m":"TA","s":"right","t":-0.163,"v":1.0},{"m":"TA","s":"right","t":-0.157,"v":0.78},{"m":"TA","s":"right","t":-0.151,"v":0.89},{"m":"TA","s":"right","t":-0.145,"v":1.11},{"m":"TA","s":"right","t":-0.14,"v":0.89},{"m":"TA","s":"right","t":-0.134,"v":0.78},{"m":"TA","s":"right","t":-0.128,"v":1.0},{"m":"TA","s":"right","t":-0.123,"v":0.89},{"m":"TA","s":"right","t":-0.117,"v":1.0},{"m":"TA","s":"right","t":-0.111,"v":1.11},{"m":"TA","s":"right","t":-0.106,"v":1.0},{"m":"TA","s":"right","t":-0.1,"v":1.11},{"m":"TA","s":"right","t":-0.094,"v":1.0},{"m":"TA","s":"right","t":-0.089,"v":0.89},{"m":"TA","s":"right","t":-0.083,"v":0.78},{"m":"TA","s":"right","t":-0.077,"v":1.11},{"m":"TA","s":"right","t":-0.072,"v":1.0},{"m":"TA","s":"right","t":-0.066,"v":1.22},{"m":"TA","s":"right","t":-0.06,"v":1.11},{"m":"TA","s":"right","t":-0.055,"v":1.0},{"m":"TA","s":"right","t":-0.049,"v":1.11},{"m":"TA","s":"right","t":-0.043,"v":1.0},{"m":"TA","s":"right","t":-0.038,"v":1.22},{"m":"TA","s":"right","t":-0.032,"v":1.33},{"m":"TA","s":"right","t":-0.026,"v":1.22},{"m":"TA","s":"right","t":-0.02,"v":1.44},{"m":"TA","s":"right","t":-0.015,"v":1.33},{"m":"TA","s":"right","t":-0.009,"v":1.56},{"m":"TA","s":"right","t":-0.001,"v":1.44},{"m":"TA","s":"right","t":0.005,"v":1.44},{"m":"TA","s":"right","t":0.011,"v":1.11},{"m":"TA","s":"right","t":0.016,"v":0.78},{"m":"TA","s":"right","t":0.022,"v":1.22},{"m":"TA","s":"right","t":0.028,"v":1.0},{"m":"TA","s":"right","t":0.034,"v":1.33},{"m":"TA","s":"right","t":0.039,"v":1.11},{"m":"TA","s":"right","t":0.045,"v":1.22},{"m":"TA","s":"right","t":0.051,"v":1.0},{"m":"TA","s":"right","t":0.056,"v":1.11},{"m":"TA","s":"right","t":0.062,"v":0.78},{"m":"TA","s":"right","t":0.068,"v":1.0},{"m":"TA","s":"right","t":0.073,"v":0.67},{"m":"TA","s":"right","t":0.079,"v":1.0},{"m":"TA","s":"right","t":0.085,"v":1.22},{"m":"TA","s":"right","t":0.09,"v":1.11},{"m":"TA","s":"right","t":0.096,"v":0.78},{"m":"TA","s":"right","t":0.102,"v":0.89},{"m":"TA","s":"right","t":0.107,"v":1.0},{"m":"TA","s":"right","t":0.113,"v":0.78},{"m":"TA","s":"right","t":0.119,"v":0.56},{"m":"TA","s":"right","t":0.124,"v":0.89},{"m":"TA","s":"right","t":0.13,"v":1.11},{"m":"TA","s":"right","t":0.136,"v":1.0},{"m":"TA","s":"right","t":0.141,"v":1.11},{"m":"TA","s":"right","t":0.147,"v":1.22},{"m":"TA","s":"right","t":0.153,"v":0.89},{"m":"TA","s":"right","t":0.159,"v":1.0},{"m":"TA","s":"right","t":0.164,"v":1.22},{"m":"TA","s":"right","t":0.17,"v":1.0},{"m":"TA","s":"right","t":0.176,"v":1.11},{"m":"TA","s":"right","t":0.181,"v":1.0},{"m":"TA","s":"right","t":0.187,"v":1.11},{"m":"TA","s":"right","t":0.193,"v":0.89},{"m":"TA","s":"right","t":0.198,"v":1.0},{"m":"TA","s":"right","t":0.204,"v":0.78},{"m":"TA","s":"right","t":0.21,"v":1.0},{"m":"TA","s":"right","t":0.215,"v":1.22},{"m":"TA","s":"right","t":0.221,"v":1.11},{"m":"TA","s":"right","t":0.227,"v":1.33},{"m":"TA","s":"right","t":0.232,"v":1.11},{"m":"TA","s":"right","t":0.238,"v":1.22},{"m":"TA","s":"right","t":0.244,"v":1.11},{"m":"TA","s":"right","t":0.249,"v":0.78},{"m":"TA","s":"right","t":0.255,"v":0.67},{"m":"TA","s":"right","t":0.261,"v":1.0},{"m":"TA","s":"right","t":0.266,"v":1.44},{"m":"TA","s":"right","t":0.272,"v":1.11},{"m":"TA","s":"right","t":0.278,"v":0.89},{"m":"TA","s":"right","t":0.284,"v":1.0},{"m":"TA","s":"right","t":0.289,"v":1.33},{"m":"TA","s":"right","t":0.295,"v":1.0},{"m":"TA","s":"right","t":0.298,"v":1.22},
{"m":"TA","s":"left","t":-0.299,"v":1.44},{"m":"TA","s":"left","t":-0.293,"v":1.56},{"m":"TA","s":"left","t":-0.288,"v":1.78},{"m":"TA","s":"left","t":-0.282,"v":1.44},{"m":"TA","s":"left","t":-0.276,"v":1.89},{"m":"TA","s":"left","t":-0.27,"v":1.56},{"m":"TA","s":"left","t":-0.265,"v":1.67},{"m":"TA","s":"left","t":-0.259,"v":1.44},{"m":"TA","s":"left","t":-0.253,"v":1.67},{"m":"TA","s":"left","t":-0.248,"v":1.56},{"m":"TA","s":"left","t":-0.242,"v":1.44},{"m":"TA","s":"left","t":-0.236,"v":2.0},{"m":"TA","s":"left","t":-0.231,"v":1.56},{"m":"TA","s":"left","t":-0.225,"v":1.44},{"m":"TA","s":"left","t":-0.219,"v":1.78},{"m":"TA","s":"left","t":-0.214,"v":1.33},{"m":"TA","s":"left","t":-0.208,"v":1.44},{"m":"TA","s":"left","t":-0.202,"v":1.22},{"m":"TA","s":"left","t":-0.197,"v":1.56},{"m":"TA","s":"left","t":-0.191,"v":1.33},{"m":"TA","s":"left","t":-0.185,"v":1.44},{"m":"TA","s":"left","t":-0.18,"v":1.67},{"m":"TA","s":"left","t":-0.174,"v":1.33},{"m":"TA","s":"left","t":-0.168,"v":1.44},{"m":"TA","s":"left","t":-0.163,"v":1.67},{"m":"TA","s":"left","t":-0.157,"v":1.56},{"m":"TA","s":"left","t":-0.151,"v":1.44},{"m":"TA","s":"left","t":-0.145,"v":1.67},{"m":"TA","s":"left","t":-0.14,"v":1.44},{"m":"TA","s":"left","t":-0.134,"v":1.56},{"m":"TA","s":"left","t":-0.128,"v":1.78},{"m":"TA","s":"left","t":-0.123,"v":1.56},{"m":"TA","s":"left","t":-0.117,"v":1.67},{"m":"TA","s":"left","t":-0.111,"v":1.89},{"m":"TA","s":"left","t":-0.106,"v":2.33},{"m":"TA","s":"left","t":-0.101,"v":3.0},{"m":"TA","s":"left","t":-0.097,"v":2.56},{"m":"TA","s":"left","t":-0.091,"v":2.0},{"m":"TA","s":"left","t":-0.086,"v":1.89},{"m":"TA","s":"left","t":-0.08,"v":1.78},{"m":"TA","s":"left","t":-0.074,"v":1.56},{"m":"TA","s":"left","t":-0.069,"v":1.44},{"m":"TA","s":"left","t":-0.063,"v":1.22},{"m":"TA","s":"left","t":-0.057,"v":1.44},{"m":"TA","s":"left","t":-0.052,"v":1.33},{"m":"TA","s":"left","t":-0.046,"v":1.56},{"m":"TA","s":"left","t":-0.04,"v":1.44},{"m":"TA","s":"left","t":-0.035,"v":1.67},{"m":"TA","s":"left","t":-0.029,"v":1.44},{"m":"TA","s":"left","t":-0.023,"v":1.56},{"m":"TA","s":"left","t":-0.018,"v":1.67},{"m":"TA","s":"left","t":-0.012,"v":1.44},{"m":"TA","s":"left","t":-0.006,"v":1.67},{"m":"TA","s":"left","t":-0.001,"v":1.56},{"m":"TA","s":"left","t":0.005,"v":1.44},{"m":"TA","s":"left","t":0.011,"v":1.78},{"m":"TA","s":"left","t":0.016,"v":1.56},{"m":"TA","s":"left","t":0.022,"v":1.89},{"m":"TA","s":"left","t":0.028,"v":1.44},{"m":"TA","s":"left","t":0.034,"v":1.67},{"m":"TA","s":"left","t":0.039,"v":1.44},{"m":"TA","s":"left","t":0.045,"v":1.67},{"m":"TA","s":"left","t":0.051,"v":1.44},{"m":"TA","s":"left","t":0.056,"v":1.56},{"m":"TA","s":"left","t":0.062,"v":1.33},{"m":"TA","s":"left","t":0.068,"v":1.67},{"m":"TA","s":"left","t":0.073,"v":1.44},{"m":"TA","s":"left","t":0.079,"v":1.33},{"m":"TA","s":"left","t":0.085,"v":1.56},{"m":"TA","s":"left","t":0.09,"v":1.22},{"m":"TA","s":"left","t":0.096,"v":1.89},{"m":"TA","s":"left","t":0.102,"v":1.56},{"m":"TA","s":"left","t":0.107,"v":1.44},{"m":"TA","s":"left","t":0.113,"v":1.67},{"m":"TA","s":"left","t":0.119,"v":1.33},{"m":"TA","s":"left","t":0.124,"v":1.56},{"m":"TA","s":"left","t":0.13,"v":1.44},{"m":"TA","s":"left","t":0.136,"v":1.67},{"m":"TA","s":"left","t":0.141,"v":1.56},{"m":"TA","s":"left","t":0.147,"v":1.78},{"m":"TA","s":"left","t":0.153,"v":1.44},{"m":"TA","s":"left","t":0.159,"v":1.67},{"m":"TA","s":"left","t":0.164,"v":1.56},{"m":"TA","s":"left","t":0.17,"v":1.44},{"m":"TA","s":"left","t":0.176,"v":1.67},{"m":"TA","s":"left","t":0.181,"v":1.56},{"m":"TA","s":"left","t":0.187,"v":1.78},{"m":"TA","s":"left","t":0.193,"v":1.44},{"m":"TA","s":"left","t":0.198,"v":1.67},{"m":"TA","s":"left","t":0.204,"v":1.89},{"m":"TA","s":"left","t":0.21,"v":1.67},{"m":"TA","s":"left","t":0.215,"v":1.44},{"m":"TA","s":"left","t":0.221,"v":1.78},{"m":"TA","s":"left","t":0.227,"v":1.56},{"m":"TA","s":"left","t":0.232,"v":1.78},{"m":"TA","s":"left","t":0.238,"v":1.67},{"m":"TA","s":"left","t":0.244,"v":1.44},{"m":"TA","s":"left","t":0.249,"v":1.56},{"m":"TA","s":"left","t":0.255,"v":1.67},{"m":"TA","s":"left","t":0.261,"v":1.78},{"m":"TA","s":"left","t":0.266,"v":2.11},{"m":"TA","s":"left","t":0.272,"v":2.56},{"m":"TA","s":"left","t":0.277,"v":2.0},{"m":"TA","s":"left","t":0.281,"v":2.33},{"m":"TA","s":"left","t":0.286,"v":2.89},{"m":"TA","s":"left","t":0.29,"v":2.33},{"m":"TA","s":"left","t":0.295,"v":1.89},{"m":"TA","s":"left","t":0.3,"v":3.22}
]
},
"hconcat": [
{
"width": 340, "height": 311,
"title": {"text": "Lateral rt-push", "fontSize": 32, "fontWeight": "bold", "font": "Liberation Sans", "color": "black", "anchor": "middle", "frame": "group", "baseline": "alphabetic", "offset": -9},
"data": {"name": "rt"},
"layer": [
{"layer": [
{"transform": [{"filter": "datum.m === 'SOL'"}],
"mark": {"type": "line", "color": "black", "strokeJoin": "round"},
"encoding": {
"x": {"field": "t", "type": "quantitative", "scale": {"domain": [-0.3, 0.3], "nice": false, "zero": false},
"axis": {"values": [-0.3, -0.2, -0.1, 0, 0.1, 0.2, 0.3], "labelExpr": "datum.value < -0.29 ? '-0.3' : datum.value > 0.29 ? '0.3' : abs(datum.value) < 0.01 ? '0' : ''", "tickSize": -6, "labelFontSize": 20, "labelPadding": 23, "labelOffset": 3, "labelFlush": false, "labelOverlap": false, "title": "Time (S)", "titleFontSize": 26, "titleFontWeight": "bold", "titleX": 181, "titleY": 90, "titleAlign": "center", "titleBaseline": "alphabetic"}},
"y": {"field": "v", "type": "quantitative", "scale": {"domain": [-20, 20], "nice": false, "zero": false},
"axis": {"values": [-15, -10, -5, 0, 5, 10, 15, 20], "labelExpr": "datum.value >= 0 ? datum.label : ''", "tickSize": -5, "labelFontSize": 19, "labelPadding": 18, "labelFlush": false, "labelOverlap": false, "title": "EMG", "titleAngle": 0, "titleX": -3, "titleY": -22, "titleAlign": "left", "titleBaseline": "alphabetic", "titleFontSize": 24, "titleFontWeight": "normal"}},
"detail": {"field": "s"},
"strokeWidth": {"field": "s", "type": "nominal", "scale": {"domain": ["right", "left"], "range": [1.2, 3]}, "legend": null}
}},
{"data": {"values": [{}]}, "mark": {"type": "rule", "color": "black", "strokeWidth": 1},
"encoding": {"x": {"datum": 0, "type": "quantitative", "scale": {"domain": [-0.3, 0.3], "nice": false, "zero": false}}, "y": {"datum": 20.9, "type": "quantitative", "scale": {"domain": [-20, 20], "nice": false, "zero": false}}, "y2": {"datum": -18.2}}},
{"data": {"values": [{}]}, "mark": {"type": "point", "shape": "M-0.45,-1L0,0L0.45,-1", "size": 324, "filled": false, "stroke": "black", "strokeWidth": 1.2, "opacity": 1},
"encoding": {"x": {"datum": 0, "type": "quantitative", "scale": {"domain": [-0.3, 0.3], "nice": false, "zero": false}}, "y": {"datum": -18.2, "type": "quantitative", "scale": {"domain": [-20, 20], "nice": false, "zero": false}}}},
{"data": {"values": [{}]}, "mark": {"type": "text", "text": "SOL", "font": "DejaVu Sans", "fontWeight": "bold", "fontSize": 19, "align": "center", "baseline": "alphabetic", "color": "black"},
"encoding": {"x": {"datum": -0.202, "type": "quantitative", "scale": {"domain": [-0.3, 0.3], "nice": false, "zero": false}}, "y": {"datum": 15.1, "type": "quantitative", "scale": {"domain": [-20, 20], "nice": false, "zero": false}}}},
{"data": {"values": [{}]}, "mark": {"type": "text", "text": "TA", "font": "DejaVu Sans", "fontWeight": "bold", "fontSize": 20, "align": "center", "baseline": "alphabetic", "color": "black"},
"encoding": {"x": {"datum": -0.211, "type": "quantitative", "scale": {"domain": [-0.3, 0.3], "nice": false, "zero": false}}, "y": {"datum": -10.5, "type": "quantitative", "scale": {"domain": [-20, 20], "nice": false, "zero": false}}}},
{"data": {"values": [{}]}, "mark": {"type": "rule", "color": "black", "strokeWidth": 1.2},
"encoding": {"x": {"datum": 0.083, "type": "quantitative", "scale": {"domain": [-0.3, 0.3], "nice": false, "zero": false}}, "x2": {"datum": 0.161}, "y": {"datum": 21.8, "type": "quantitative", "scale": {"domain": [-20, 20], "nice": false, "zero": false}}}},
{"data": {"values": [{}]}, "mark": {"type": "rule", "color": "black", "strokeWidth": 3},
"encoding": {"x": {"datum": 0.083, "type": "quantitative", "scale": {"domain": [-0.3, 0.3], "nice": false, "zero": false}}, "x2": {"datum": 0.161}, "y": {"datum": 18.3, "type": "quantitative", "scale": {"domain": [-20, 20], "nice": false, "zero": false}}}},
{"data": {"values": [{}]}, "mark": {"type": "text", "text": "right", "fontSize": 24, "align": "left", "baseline": "alphabetic", "color": "black"},
"encoding": {"x": {"datum": 0.207, "type": "quantitative", "scale": {"domain": [-0.3, 0.3], "nice": false, "zero": false}}, "y": {"datum": 21.1, "type": "quantitative", "scale": {"domain": [-20, 20], "nice": false, "zero": false}}}},
{"data": {"values": [{}]}, "mark": {"type": "text", "text": "left", "fontSize": 24, "align": "left", "baseline": "alphabetic", "color": "black"},
"encoding": {"x": {"datum": 0.207, "type": "quantitative", "scale": {"domain": [-0.3, 0.3], "nice": false, "zero": false}}, "y": {"datum": 17.2, "type": "quantitative", "scale": {"domain": [-20, 20], "nice": false, "zero": false}}}},
{"data": {"values": [{}]}, "mark": {"type": "rule", "color": "black", "strokeWidth": 1.2},
"encoding": {"x": {"datum": -0.102, "type": "quantitative", "scale": {"domain": [-0.3, 0.3], "nice": false, "zero": false}}, "x2": {"datum": 0.045}, "y": {"datum": -26.4, "type": "quantitative", "scale": {"domain": [-20, 20], "nice": false, "zero": false}}}},
{"data": {"values": [{}]}, "mark": {"type": "rule", "color": "black", "strokeWidth": 1.2},
"encoding": {"x": {"datum": -0.102, "type": "quantitative", "scale": {"domain": [-0.3, 0.3], "nice": false, "zero": false}}, "y": {"datum": -25.1, "type": "quantitative", "scale": {"domain": [-20, 20], "nice": false, "zero": false}}, "y2": {"datum": -26.4}}},
{"data": {"values": [{}]}, "mark": {"type": "rule", "color": "black", "strokeWidth": 1.2},
"encoding": {"x": {"datum": 0.045, "type": "quantitative", "scale": {"domain": [-0.3, 0.3], "nice": false, "zero": false}}, "y": {"datum": -25.1, "type": "quantitative", "scale": {"domain": [-20, 20], "nice": false, "zero": false}}, "y2": {"datum": -26.4}}},
{"data": {"values": [{}]}, "mark": {"type": "text", "text": "150 ms", "font": "Liberation Serif", "fontWeight": "bold", "fontSize": 14, "align": "center", "baseline": "alphabetic", "color": "black"},
"encoding": {"x": {"datum": -0.033, "type": "quantitative", "scale": {"domain": [-0.3, 0.3], "nice": false, "zero": false}}, "y": {"datum": -28.0, "type": "quantitative", "scale": {"domain": [-20, 20], "nice": false, "zero": false}}}}
]},
{"transform": [{"filter": "datum.m === 'TA'"}],
"mark": {"type": "line", "color": "black", "strokeJoin": "round"},
"encoding": {
"x": {"field": "t", "type": "quantitative", "scale": {"domain": [-0.3, 0.3], "nice": false, "zero": false},
"axis": {"values": [-0.3, -0.2, -0.1, 0, 0.1, 0.2, 0.3], "labelExpr": "datum.value < -0.29 ? '-0.3' : datum.value > 0.29 ? '0.3' : abs(datum.value) < 0.01 ? '0' : ''", "tickSize": -6, "labelFontSize": 20, "labelPadding": 23, "labelOffset": 3, "labelFlush": false, "labelOverlap": false, "title": "Time (S)", "titleFontSize": 26, "titleFontWeight": "bold", "titleX": 181, "titleY": 90, "titleAlign": "center", "titleBaseline": "alphabetic"}},
"y": {"field": "v", "type": "quantitative", "scale": {"domain": [-10, 10], "reverse": true, "nice": false, "zero": false},
"axis": {"orient": "right", "values": [-10, -5, 0, 2.5, 5, 7.5, 10], "labelExpr": "datum.value == 0 || datum.value == 5 || datum.value == 10 ? datum.label : ''", "tickSize": -5, "labelFontSize": 19, "labelPadding": 12, "labelFlush": false, "labelOverlap": false, "title": null}},
"detail": {"field": "s"},
"strokeWidth": {"field": "s", "type": "nominal", "scale": {"domain": ["right", "left"], "range": [1.2, 3]}, "legend": null}
}}
],
"resolve": {"scale": {"y": "independent"}}
},
{
"width": 352, "height": 310,
"title": {"text": "Lateral lt-push", "fontSize": 32, "fontWeight": "bold", "font": "Liberation Sans", "color": "black", "anchor": "middle", "frame": "group", "baseline": "alphabetic", "offset": -13, "dx": -5},
"data": {"name": "lt"},
"layer": [
{"layer": [
{"transform": [{"filter": "datum.m === 'SOL'"}],
"mark": {"type": "line", "color": "black", "strokeJoin": "round"},
"encoding": {
"x": {"field": "t", "type": "quantitative", "scale": {"domain": [-0.3, 0.3], "nice": false, "zero": false},
"axis": {"values": [-0.3, -0.2, -0.1, 0, 0.1, 0.2, 0.3], "labelExpr": "datum.value < -0.29 ? '-0.3' : datum.value > 0.29 ? '0.3' : abs(datum.value) < 0.01 ? '0' : ''", "tickSize": -6, "labelFontSize": 20, "labelPadding": 20, "labelOffset": 2, "labelFlush": false, "labelOverlap": false, "title": "Time (S)", "titleFontSize": 26, "titleFontWeight": "bold", "titleX": 171, "titleY": 93, "titleAlign": "center", "titleBaseline": "alphabetic"}},
"y": {"field": "v", "type": "quantitative", "scale": {"domain": [-20.27, 21.07], "nice": false, "zero": false},
"axis": {"values": [-15, -10, -5, 0, 5, 10, 15, 20], "labelExpr": "datum.value >= 0 ? datum.label : ''", "domain": false, "tickSize": -5, "labelFontSize": 19, "labelPadding": 15, "labelFlush": false, "labelOverlap": false, "title": "EMG", "titleAngle": 0, "titleX": -2, "titleY": -14, "titleAlign": "left", "titleBaseline": "alphabetic", "titleFontSize": 24, "titleFontWeight": "normal"}},
"detail": {"field": "s"},
"strokeWidth": {"field": "s", "type": "nominal", "scale": {"domain": ["right", "left"], "range": [1.2, 3]}, "legend": null}
}},
{"data": {"values": [{}]}, "mark": {"type": "rule", "color": "black", "strokeWidth": 1},
"encoding": {"x": {"datum": -0.3, "type": "quantitative", "scale": {"domain": [-0.3, 0.3], "nice": false, "zero": false}}, "y": {"datum": 20, "type": "quantitative", "scale": {"domain": [-20.27, 21.07], "nice": false, "zero": false}}, "y2": {"datum": -20.27}}},
{"data": {"values": [{}]}, "mark": {"type": "rule", "color": "black", "strokeWidth": 1},
"encoding": {"x": {"datum": 0.3, "type": "quantitative", "scale": {"domain": [-0.3, 0.3], "nice": false, "zero": false}}, "y": {"datum": 20, "type": "quantitative", "scale": {"domain": [-20.27, 21.07], "nice": false, "zero": false}}, "y2": {"datum": -20.27}}},
{"data": {"values": [{}]}, "mark": {"type": "rule", "color": "black", "strokeWidth": 1},
"encoding": {"x": {"datum": 0, "type": "quantitative", "scale": {"domain": [-0.3, 0.3], "nice": false, "zero": false}}, "y": {"datum": 20.67, "type": "quantitative", "scale": {"domain": [-20.27, 21.07], "nice": false, "zero": false}}, "y2": {"datum": -18.4}}},
{"data": {"values": [{}]}, "mark": {"type": "point", "shape": "M-0.45,-1L0,0L0.45,-1", "size": 324, "filled": false, "stroke": "black", "strokeWidth": 1.2, "opacity": 1},
"encoding": {"x": {"datum": 0, "type": "quantitative", "scale": {"domain": [-0.3, 0.3], "nice": false, "zero": false}}, "y": {"datum": -18.4, "type": "quantitative", "scale": {"domain": [-20.27, 21.07], "nice": false, "zero": false}}}},
{"data": {"values": [{}]}, "mark": {"type": "text", "text": "SOL", "font": "DejaVu Sans", "fontWeight": "bold", "fontSize": 19, "align": "center", "baseline": "alphabetic", "color": "black"},
"encoding": {"x": {"datum": -0.203, "type": "quantitative", "scale": {"domain": [-0.3, 0.3], "nice": false, "zero": false}}, "y": {"datum": 14.9, "type": "quantitative", "scale": {"domain": [-20.27, 21.07], "nice": false, "zero": false}}}},
{"data": {"values": [{}]}, "mark": {"type": "text", "text": "TA", "font": "DejaVu Sans", "fontWeight": "bold", "fontSize": 20, "align": "center", "baseline": "alphabetic", "color": "black"},
"encoding": {"x": {"datum": -0.213, "type": "quantitative", "scale": {"domain": [-0.3, 0.3], "nice": false, "zero": false}}, "y": {"datum": -10.8, "type": "quantitative", "scale": {"domain": [-20.27, 21.07], "nice": false, "zero": false}}}},
{"data": {"values": [{}]}, "mark": {"type": "rule", "color": "black", "strokeWidth": 1.2},
"encoding": {"x": {"datum": 0.0886, "type": "quantitative", "scale": {"domain": [-0.3, 0.3], "nice": false, "zero": false}}, "x2": {"datum": 0.169}, "y": {"datum": 21.07, "type": "quantitative", "scale": {"domain": [-20.27, 21.07], "nice": false, "zero": false}}}},
{"data": {"values": [{}]}, "mark": {"type": "rule", "color": "black", "strokeWidth": 3},
"encoding": {"x": {"datum": 0.0886, "type": "quantitative", "scale": {"domain": [-0.3, 0.3], "nice": false, "zero": false}}, "x2": {"datum": 0.169}, "y": {"datum": 17.6, "type": "quantitative", "scale": {"domain": [-20.27, 21.07], "nice": false, "zero": false}}}},
{"data": {"values": [{}]}, "mark": {"type": "text", "text": "right", "fontSize": 24, "align": "left", "baseline": "alphabetic", "color": "black"},
"encoding": {"x": {"datum": 0.208, "type": "quantitative", "scale": {"domain": [-0.3, 0.3], "nice": false, "zero": false}}, "y": {"datum": 20.67, "type": "quantitative", "scale": {"domain": [-20.27, 21.07], "nice": false, "zero": false}}}},
{"data": {"values": [{}]}, "mark": {"type": "text", "text": "left", "fontSize": 24, "align": "left", "baseline": "alphabetic", "color": "black"},
"encoding": {"x": {"datum": 0.208, "type": "quantitative", "scale": {"domain": [-0.3, 0.3], "nice": false, "zero": false}}, "y": {"datum": 16.67, "type": "quantitative", "scale": {"domain": [-20.27, 21.07], "nice": false, "zero": false}}}},
{"data": {"values": [{}]}, "mark": {"type": "rule", "color": "black", "strokeWidth": 1.2},
"encoding": {"x": {"datum": -0.0989, "type": "quantitative", "scale": {"domain": [-0.3, 0.3], "nice": false, "zero": false}}, "x2": {"datum": 0.0426}, "y": {"datum": -27.07, "type": "quantitative", "scale": {"domain": [-20.27, 21.07], "nice": false, "zero": false}}}},
{"data": {"values": [{}]}, "mark": {"type": "rule", "color": "black", "strokeWidth": 1.2},
"encoding": {"x": {"datum": -0.0989, "type": "quantitative", "scale": {"domain": [-0.3, 0.3], "nice": false, "zero": false}}, "y": {"datum": -25.73, "type": "quantitative", "scale": {"domain": [-20.27, 21.07], "nice": false, "zero": false}}, "y2": {"datum": -27.07}}},
{"data": {"values": [{}]}, "mark": {"type": "rule", "color": "black", "strokeWidth": 1.2},
"encoding": {"x": {"datum": 0.0426, "type": "quantitative", "scale": {"domain": [-0.3, 0.3], "nice": false, "zero": false}}, "y": {"datum": -25.73, "type": "quantitative", "scale": {"domain": [-20.27, 21.07], "nice": false, "zero": false}}, "y2": {"datum": -27.07}}},
{"data": {"values": [{}]}, "mark": {"type": "text", "text": "150 ms", "font": "Liberation Serif", "fontWeight": "bold", "fontSize": 14, "align": "center", "baseline": "alphabetic", "color": "black"},
"encoding": {"x": {"datum": -0.0315, "type": "quantitative", "scale": {"domain": [-0.3, 0.3], "nice": false, "zero": false}}, "y": {"datum": -28.9, "type": "quantitative", "scale": {"domain": [-20.27, 21.07], "nice": false, "zero": false}}}}
]},
{"transform": [{"filter": "datum.m === 'TA'"}],
"mark": {"type": "line", "color": "black", "strokeJoin": "round"},
"encoding": {
"x": {"field": "t", "type": "quantitative", "scale": {"domain": [-0.3, 0.3], "nice": false, "zero": false},
"axis": {"values": [-0.3, -0.2, -0.1, 0, 0.1, 0.2, 0.3], "labelExpr": "datum.value < -0.29 ? '-0.3' : datum.value > 0.29 ? '0.3' : abs(datum.value) < 0.01 ? '0' : ''", "tickSize": -6, "labelFontSize": 20, "labelPadding": 20, "labelOffset": 2, "labelFlush": false, "labelOverlap": false, "title": "Time (S)", "titleFontSize": 26, "titleFontWeight": "bold", "titleX": 171, "titleY": 93, "titleAlign": "center", "titleBaseline": "alphabetic"}},
"y": {"field": "v", "type": "quantitative", "scale": {"domain": [-10.53, 10.13], "reverse": true, "nice": false, "zero": false},
"axis": {"orient": "right", "values": [-10, -5, 0, 2.5, 5, 7.5, 10], "labelExpr": "datum.value == 0 || datum.value == 5 || datum.value == 10 ? datum.label : ''", "domain": false, "tickSize": -5, "labelFontSize": 19, "labelPadding": 7, "labelFlush": false, "labelOverlap": false, "title": null}},
"detail": {"field": "s"},
"strokeWidth": {"field": "s", "type": "nominal", "scale": {"domain": ["right", "left"], "range": [1.2, 3]}, "legend": null}
}}
],
"resolve": {"scale": {"y": "independent"}}
}
]
}
